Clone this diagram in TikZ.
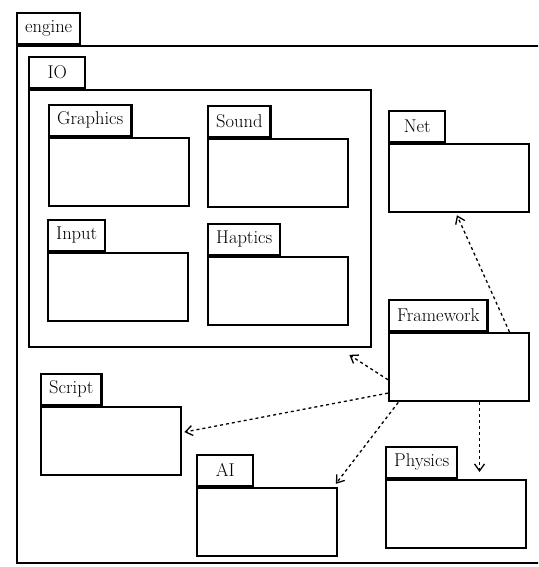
\documentclass[tikz,border=0pt]{standalone}
\usetikzlibrary{calc}
\usetikzlibrary{arrows.meta}
\tikzset{
    pkgcommon/.style={draw, rectangle, line width=2.4pt, inner sep=0pt},
    pkgbody/.style={pkgcommon, anchor=north west, minimum width=140pt, minimum height=68pt},
    pkgtab/.style={pkgcommon, anchor=south west, minimum width=56pt, minimum height=31pt, inner xsep=8pt, font=\fontsize{18.5}{20}\selectfont},
    dep/.style={-{Straight Barb[length=7pt, width=10pt]}, dashed, line width=1.3pt, shorten >=2pt},
}
\begin{document}
\begin{tikzpicture}[x=1pt, y=-1pt]
    \useasboundingbox (0,0) rectangle (538,567);
    \clip (0,0) rectangle (538,567);

    % outer package
    \node[pkgbody, minimum width=540pt, minimum height=517pt] (engine) at (16,45) {};
    \node[pkgtab] (engine-tab) at (engine.north west) {engine};

    % IO and its sub packages
    \node[pkgbody, minimum width=342pt, minimum height=257pt] (io) at (28,89) {};
    \node[pkgtab] (io-tab) at (io.north west) {IO};

    \node[pkgbody] (graphics) at (48,137) {};
    \node[pkgtab] (graphics-tab) at (graphics.north west) {Graphics};
    \node[pkgbody] (sound) at (207,138) {};
    \node[pkgtab] (sound-tab) at (sound.north west) {Sound};
    \node[pkgbody] (input) at (47,252) {};
    \node[pkgtab] (input-tab) at (input.north west) {Input};
    \node[pkgbody] (haptics) at (207,256) {};
    \node[pkgtab] (haptics-tab) at (haptics.north west) {Haptics};

    % the others
    \node[pkgbody] (net) at (388,143) {};
    \node[pkgtab] (net-tab) at (net.north west) {Net};
    \node[pkgbody] (framework) at (388,332) {};
    \node[pkgtab] (framework-tab) at (framework.north west) {Framework};
    \node[pkgbody] (script) at (40,406) {};
    \node[pkgtab] (script-tab) at (script.north west) {Script};
    \node[pkgbody] (ai) at (196,487) {};
    \node[pkgtab] (ai-tab) at (ai.north west) {AI};
    \node[pkgbody] (physics) at (385,479) {};
    \node[pkgtab] (physics-tab) at (physics.north west) {Physics};

    % dependencies
    \draw[dep] (framework.35) -- (net.265);
    \draw[dep, shorten >=12pt] (framework.190) -- (io.-43);
    \draw[dep] (framework.200) -- (script.7);
    \draw[dep, shorten >=4pt] (framework.210) -- (ai.28);
    \draw[dep, shorten >=7pt] (framework.-60) -- (framework.-60 |- physics.north);
\end{tikzpicture}
\end{document}
